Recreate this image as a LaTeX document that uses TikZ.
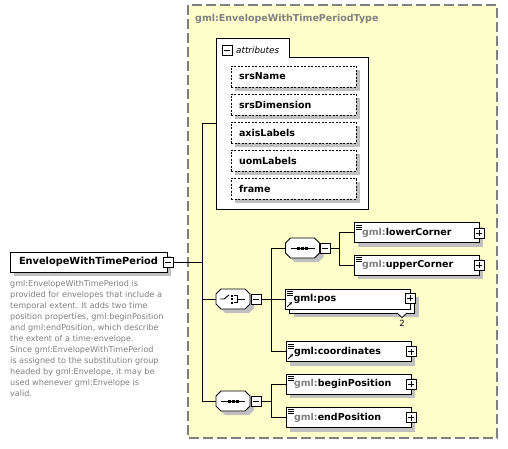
\documentclass[tikz,border=0pt]{standalone}
\usepackage{fontspec}
\setmainfont{DejaVu Sans}
\usetikzlibrary{arrows.meta,shadows}
\definecolor{ybg}{RGB}{255,255,204}
\definecolor{bord}{RGB}{128,128,128}
\definecolor{shd}{RGB}{192,192,192}
\definecolor{txtg}{RGB}{128,128,128}
\tikzset{
  conn/.style={draw=black,line width=0.9pt},
  shad/.style={drop shadow={shadow xshift=4pt,shadow yshift=-4pt,fill=shd,opacity=1}},
  elbox/.style={draw=black,fill=white,line width=0.9pt,minimum width=125pt,minimum height=20pt,
    inner xsep=8pt,inner ysep=0pt,text width=109pt,align=left,font=\bfseries\fontsize{9.5}{10}\selectfont},
  attbox/.style={draw=black,fill=white,line width=0.8pt,dash pattern=on 2pt off 1.5pt,shad,
    minimum width=125pt,minimum height=21pt,inner xsep=8pt,inner ysep=0pt,text width=109pt,align=left,
    font=\bfseries\fontsize{9.5}{10}\selectfont},
  pmbox/.style={draw=black,fill=white,line width=0.8pt,minimum size=10pt,inner sep=0pt},
  minusbox/.style={pmbox,path picture={\draw[line width=0.8pt] ([xshift=2pt]path picture bounding box.west) -- ([xshift=-2pt]path picture bounding box.east);}},
  plusbox/.style={pmbox,path picture={\draw[line width=0.8pt] ([xshift=2pt]path picture bounding box.west) -- ([xshift=-2pt]path picture bounding box.east);
     \draw[line width=0.8pt] ([yshift=-2pt]path picture bounding box.north) -- ([yshift=2pt]path picture bounding box.south);}},
  invis/.style={inner sep=0pt,minimum width=34pt,minimum height=20pt}
}
\newcommand\octo[3]{%
  \begin{scope}[shift={(#2,#3)}]
    \begin{scope}[shift={(4,4)}]\fill[shd] (-12,-10) -- (12,-10) -- (17,-5) -- (17,5) -- (12,10) -- (-12,10) -- (-17,5) -- (-17,-5) -- cycle;\end{scope}
    \draw[fill=white,line width=0.9pt] (-12,-10) -- (12,-10) -- (17,-5) -- (17,5) -- (12,10) -- (-12,10) -- (-17,5) -- (-17,-5) -- cycle;
    \node[invis] (#1) at (0,0) {};
  \end{scope}}
\newcommand\seqsym[2]{%
  \begin{scope}[shift={(#1,#2)}]
    \draw[line width=0.9pt] (-12,0) -- (12,0);
    \fill (-5.5,-1.5) rectangle (-2.5,1.5);
    \fill (-1.5,-1.5) rectangle (1.5,1.5);
    \fill (2.5,-1.5) rectangle (5.5,1.5);
  \end{scope}}
\newcommand\lines[2]{%
  \begin{scope}[shift={(#1,#2)}]
    \draw[line width=0.7pt] (2,2) -- (8,2) (2,4) -- (8,4) (2,6) -- (8,6);
  \end{scope}}
\newcommand\refarrow[2]{%
  \begin{scope}[shift={(#1,#2)}]
    \draw[line width=1pt,-{Stealth[length=3pt,width=3pt]}] (2,-2) -- (7,-7);
  \end{scope}}
\begin{document}
\begin{tikzpicture}[x=1pt,y=-1pt]
\useasboundingbox (0,0) rectangle (508,449);
\fill[white] (0,0) rectangle (508,449);
% type box
\draw[fill=ybg,draw=bord,dash pattern=on 10pt off 4pt,line width=1.2pt] (188,5) rectangle (497,438);
\node[anchor=west,inner sep=0pt,text=txtg,font=\bfseries\fontsize{9.5}{10}\selectfont] (title) at (195,19) {gml:EnvelopeWithTimePeriodType};
% coordinates of buses
\coordinate (busA) at (202,0);
\coordinate (busB) at (271,0);
\coordinate (busC) at (339,0);
% main element
\node[draw=black,fill=white,line width=0.9pt,shad,minimum width=157pt,minimum height=20pt,inner sep=0pt,
  font=\bfseries\fontsize{9.8}{11}\selectfont] (main) at (88.5,262) {EnvelopeWithTimePeriod};
\node[minusbox] (mainm) at (168,262) {};
\node[anchor=north west,inner sep=0pt,align=left,text=txtg,font=\fontsize{8.1}{11}\selectfont] (desc) at (10,280)
 {gml:EnvelopeWithTimePeriod is\\provided for envelopes that include a\\temporal extent. It adds two time\\position properties, gml:beginPosition\\and gml:endPosition, which describe\\the extent of a time-envelope.\\Since gml:EnvelopeWithTimePeriod\\is assigned to the substitution group\\headed by gml:Envelope, it may be\\used whenever gml:Envelope is\\valid.};
% attributes group
\draw[fill=white,line width=0.9pt] (216,209) -- (216,38) -- (289,38) -- (289,57) -- (368,57) -- (368,209) -- cycle;
\node[inner sep=0pt,minimum width=152pt,minimum height=171pt] (attrs) at (292,123.5) {};
\node[minusbox] (attrm) at (227,50) {};
\node[anchor=west,inner sep=0pt,font=\itshape\fontsize{8.8}{10}\selectfont] (attrlbl) at (236,50) {attributes};
\node[attbox] (a1) at (293.5,76.5) {srsName};
\node[attbox] (a2) at (293.5,104.5) {srsDimension};
\node[attbox] (a3) at (293.5,132.5) {axisLabels};
\node[attbox] (a4) at (293.5,160.5) {uomLabels};
\node[attbox] (a5) at (293.5,188.5) {frame};
% compositors
\octo{ch}{233}{299}
\begin{scope}[shift={(233,299)}]
  \draw[line width=0.9pt] (-13,0) -- (-9,0) -- (-4,-4);
  \fill (-2,-4.5) rectangle (0,-2.5);
  \fill (-2,-1) rectangle (0,1);
  \fill (-2,2.5) rectangle (0,4.5);
  \draw[line width=0.9pt] (1,-3.5) -- (4.5,-3.5) -- (4.5,3.5) -- (1,3.5);
  \draw[line width=0.9pt] (4.5,0) -- (12,0);
\end{scope}
\node[minusbox] (chm) at (256,299) {};
\octo{sq1}{302.5}{248}
\seqsym{302.5}{248}
\node[minusbox] (sq1m) at (325,248) {};
\octo{sq2}{233}{401}
\seqsym{233}{401}
\node[minusbox] (sq2m) at (256,401) {};
% elements
\node[elbox,shad] (lc) at (416.5,232.5) {{\color{txtg}gml:}lowerCorner};
\lines{354}{223}
\node[plusbox] (lcp) at (479,233) {};
\node[elbox,shad] (uc) at (416.5,265) {{\color{txtg}gml:}upperCorner};
\lines{354}{255}
\node[plusbox] (ucp) at (479,265) {};
\node[elbox,shad] (posback) at (352,303) {};
\node[elbox] (pos) at (348,299) {gml:pos};
\lines{285}{289}
\refarrow{285}{309}
\node[plusbox] (posp) at (410,298) {};
\draw[fill=white,line width=0.8pt] (397,313) -- (402,317.5) -- (407,313);
\node[inner sep=0pt,text=black,font=\fontsize{8.5}{10}\selectfont] (mult) at (402,323) {2};
\node[elbox,shad] (coord) at (348.5,351.5) {gml:coordinates};
\lines{286}{342}
\refarrow{286}{361}
\node[plusbox] (coordp) at (411,351.5) {};
\node[elbox,shad] (bp) at (348.5,384) {{\color{txtg}gml:}beginPosition};
\lines{286}{374}
\node[plusbox] (bpp) at (411,384) {};
\node[elbox,shad] (ep) at (348.5,417.5) {{\color{txtg}gml:}endPosition};
\lines{286}{407.5}
\node[plusbox] (epp) at (411,417.5) {};
% connectors
\draw[conn] (mainm.east) -- (mainm.east -| busA);
\draw[conn] (attrs.west) -- (attrs.west -| busA) -- (sq2.west -| busA) -- (sq2.west);
\draw[conn] (ch.west) -- (ch.west -| busA);
\draw[conn] (chm.east) -- (pos.west);
\draw[conn] (sq1.west) -- (sq1.west -| busB) -- (coord.west -| busB) -- (coord.west);
\draw[conn] (sq1m.east) -- (sq1m.east -| busC);
\draw[conn] (lc.west) -- (lc.west -| busC) -- (uc.west -| busC) -- (uc.west);
\draw[conn] (sq2m.east) -- (sq2m.east -| busB);
\draw[conn] (bp.west) -- (bp.west -| busB) -- (ep.west -| busB) -- (ep.west);
\end{tikzpicture}
\end{document}
